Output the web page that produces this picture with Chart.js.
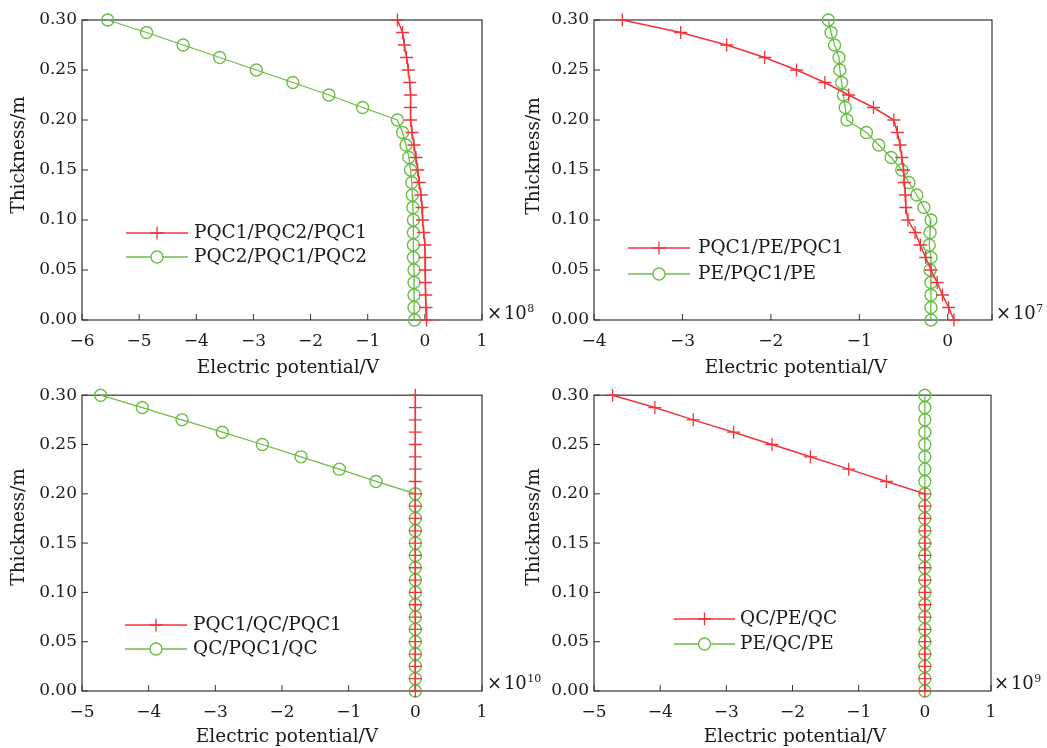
<!DOCTYPE html>
<html>
<head>
<meta charset="utf-8">
<script src="https://cdn.jsdelivr.net/npm/chart.js@4/dist/chart.umd.min.js"></script>
<style>
  body { margin: 0; background: #fff; width: 1047px; height: 748px; position: relative; overflow: hidden; }
  canvas { position: absolute; }
</style>
</head>
<body>
<canvas id="c1" width="545" height="380" style="left:0;top:0"></canvas>
<canvas id="c2" width="527" height="380" style="left:520px;top:0"></canvas>
<canvas id="c3" width="545" height="368" style="left:0;top:380px"></canvas>
<canvas id="c4" width="527" height="368" style="left:520px;top:380px"></canvas>
<script>
// thickness (m), shared by all four panels
const thickness = [0.3, 0.2875, 0.275, 0.2625, 0.25, 0.2375, 0.225, 0.2125, 0.2, 0.1875, 0.175, 0.1625, 0.15,
  0.1375, 0.125, 0.1125, 0.1, 0.0875, 0.075, 0.0625, 0.05, 0.0375, 0.025, 0.0125, 0];

// panel (a), x 1e8 V
const pqc1Pqc2Pqc1 = [-0.48, -0.39, -0.36, -0.32, -0.29, -0.265, -0.25, -0.25, -0.25, -0.225, -0.19, -0.155, -0.125,
  -0.10, -0.07, -0.05, -0.04, -0.02, 0.0, 0.005, 0.005, 0.01, 0.015, 0.02, 0.03];
const pqc2Pqc1Pqc2 = [-5.55, -4.87, -4.23, -3.59, -2.95, -2.31, -1.68, -1.09, -0.48, -0.39, -0.33, -0.28, -0.25,
  -0.23, -0.22, -0.21, -0.20, -0.20, -0.20, -0.20, -0.19, -0.19, -0.19, -0.19, -0.18];

// panel (b), x 1e7 V
const pqc1PePqc1 = [-3.68, -3.02, -2.50, -2.07, -1.71, -1.39, -1.12, -0.84, -0.61, -0.57, -0.54, -0.52, -0.50,
  -0.49, -0.48, -0.475, -0.45, -0.37, -0.31, -0.25, -0.19, -0.12, -0.06, 0.01, 0.07];
const pePqc1Pe = [-1.35, -1.32, -1.28, -1.23, -1.22, -1.20, -1.18, -1.16, -1.14, -0.92, -0.78, -0.64, -0.52,
  -0.44, -0.35, -0.27, -0.19, -0.20, -0.21, -0.19, -0.20, -0.19, -0.19, -0.19, -0.19];

// panel (c), x 1e10 V
const pqc1QcPqc1 = [0, 0, 0, 0, 0, 0, 0, 0, 0, 0, 0, 0, 0, 0, 0, 0, 0, 0, 0, 0, 0, 0, 0, 0, 0];
const qcPqc1Qc = [-4.72, -4.095, -3.50, -2.895, -2.295, -1.715, -1.14, -0.59, 0, 0, 0, 0, 0, 0, 0, 0, 0, 0, 0, 0,
  0, 0, 0, 0, 0];

// panel (d), x 1e9 V
const qcPeQc = [-4.72, -4.08, -3.50, -2.89, -2.31, -1.73, -1.15, -0.58, 0, 0, 0, 0, 0, 0, 0, 0, 0, 0, 0, 0,
  0, 0, 0, 0, 0];
const peQcPe = [0, 0, 0, 0, 0, 0, 0, 0, 0, 0, 0, 0, 0, 0, 0, 0, 0, 0, 0, 0, 0, 0, 0, 0, 0];

const xMin = [-6, -4, -5, -5];
const xMax = [1, 0.5, 1, 1];
const exponents = ['8', '7', '10', '9'];
const seriesNames = [
  ['PQC1/PQC2/PQC1', 'PQC2/PQC1/PQC2'],
  ['PQC1/PE/PQC1', 'PE/PQC1/PE'],
  ['PQC1/QC/PQC1', 'QC/PQC1/QC'],
  ['QC/PE/QC', 'PE/QC/PE'],
];
const seriesValues = [
  [pqc1Pqc2Pqc1, pqc2Pqc1Pqc2],
  [pqc1PePqc1, pePqc1Pe],
  [pqc1QcPqc1, qcPqc1Qc],
  [qcPeQc, peQcPe],
];

const RED = '#f0343a';
const GREEN = '#6cbd48';
const FONT = '"DejaVu Serif", serif';

// layout per panel, canvas coordinates
const layouts = [
  { area: [82, 20, 482, 320], yTitle: [19, 155], xTitle: [288, 368], legend: [126, 188, 233, 257, 194], expo: [487, 319] },
  { area: [74, 20, 472, 320], yTitle: [14, 156], xTitle: [276, 368], legend: [108, 170, 248, 274, 178], expo: [476, 319] },
  { area: [82, 10, 482, 311], yTitle: [19, 147], xTitle: [287, 357], legend: [125, 187, 245, 269, 193], expo: [487, 309] },
  { area: [74, 10, 471, 311], yTitle: [14, 147], xTitle: [275, 357], legend: [154, 215, 239, 264, 220], expo: [474, 309] },
];

const decor = {
  id: 'decor',
  beforeDatasetsDraw(chart, args, o) {
    const { ctx, chartArea: a, scales: { x, y } } = chart;
    ctx.save();
    ctx.strokeStyle = '#333';
    ctx.lineWidth = 1.2;
    ctx.strokeRect(a.left, a.top, a.right - a.left, a.bottom - a.top);
    ctx.lineWidth = 1;
    ctx.beginPath();
    x.ticks.forEach(t => {
      const px = x.getPixelForValue(t.value);
      ctx.moveTo(px, a.bottom);
      ctx.lineTo(px, a.bottom - 6);
    });
    y.ticks.forEach(t => {
      const py = y.getPixelForValue(t.value);
      ctx.moveTo(a.left, py);
      ctx.lineTo(a.left + 6, py);
    });
    ctx.stroke();
    ctx.restore();
  },
  afterDraw(chart, args, o) {
    const { ctx } = chart;
    const L = o.layout;
    ctx.save();
    ctx.fillStyle = '#1a1a1a';
    ctx.font = '18.5px ' + FONT;
    ctx.textBaseline = 'middle';
    ctx.textAlign = 'center';
    ctx.fillText('Electric potential/V', L.xTitle[0], L.xTitle[1]);
    ctx.save();
    ctx.translate(L.yTitle[0], L.yTitle[1]);
    ctx.rotate(-Math.PI / 2);
    ctx.fillText('Thickness/m', 0, 0);
    ctx.restore();

    // legend
    const [x1, x2, y1, y2, tx] = L.legend;
    chart.data.datasets.forEach((ds, i) => {
      const yy = i === 0 ? y1 : y2;
      ctx.strokeStyle = ds.borderColor;
      ctx.lineWidth = ds.borderWidth;
      ctx.beginPath();
      ctx.moveTo(x1, yy);
      ctx.lineTo(x2, yy);
      ctx.stroke();
      ctx.fillStyle = '#fff';
      ctx.strokeStyle = ds.pointBorderColor;
      ctx.lineWidth = ds.pointBorderWidth;
      Chart.helpers.drawPoint(ctx, { pointStyle: ds.pointStyle, radius: ds.pointRadius, borderWidth: ds.pointBorderWidth, rotation: 0 }, (x1 + x2) / 2, yy);
      ctx.fillStyle = '#1a1a1a';
      ctx.textAlign = 'left';
      ctx.fillText(ds.label, tx, yy);
    });

    // exponent
    ctx.textBaseline = 'alphabetic';
    ctx.textAlign = 'left';
    ctx.font = '18px ' + FONT;
    const base = '\u00d7\u200a10';
    ctx.fillText(base, L.expo[0], L.expo[1]);
    const w = ctx.measureText(base).width;
    ctx.font = '11px ' + FONT;
    ctx.fillText(o.exponent, L.expo[0] + w + 0.5, L.expo[1] - 7);
    ctx.restore();
  }
};

function makePanel(idx) {
  const L = layouts[idx];
  const canvas = document.getElementById('c' + (idx + 1));
  const [red, green] = seriesValues[idx];
  const toPoints = vals => vals.map((v, i) => ({ x: v, y: thickness[i] }));
  const W = canvas.width, H = canvas.height;

  new Chart(canvas, {
    type: 'scatter',
    data: {
      datasets: [
        {
          label: seriesNames[idx][0],
          data: toPoints(red),
          showLine: true,
          borderColor: RED,
          borderWidth: 1.5,
          pointStyle: 'cross',
          pointRadius: 6.5,
          pointBorderColor: RED,
          pointBorderWidth: 1.3,
          pointBackgroundColor: RED,
          clip: false,
        },
        {
          label: seriesNames[idx][1],
          data: toPoints(green),
          showLine: true,
          borderColor: GREEN,
          borderWidth: 1.3,
          pointStyle: 'circle',
          pointRadius: 6,
          pointBorderColor: GREEN,
          pointBorderWidth: 1.4,
          pointBackgroundColor: 'rgba(0,0,0,0)',
          clip: false,
        },
      ],
    },
    options: {
      responsive: false,
      animation: false,
      events: [],
      layout: { padding: { left: 0, top: L.area[1], right: W - L.area[2], bottom: 0 } },
      plugins: {
        legend: { display: false },
        tooltip: { enabled: false },
        decor: { layout: L, exponent: exponents[idx] },
      },
      scales: {
        x: {
          type: 'linear',
          min: xMin[idx],
          max: xMax[idx],
          grid: { display: false, drawTicks: false },
          border: { display: false },
          ticks: {
            stepSize: 1,
            padding: 11,
            color: '#1a1a1a',
            font: { family: FONT, size: 17 },
            callback: v => (Number.isInteger(v) ? String(v).replace('-', '\u2212') : ''),
          },
          afterFit: s => { s.height = H - L.area[3]; },
        },
        y: {
          type: 'linear',
          min: 0,
          max: 0.3,
          grid: { display: false, drawTicks: false },
          border: { display: false },
          ticks: {
            stepSize: 0.05,
            padding: 5,
            color: '#1a1a1a',
            font: { family: FONT, size: 17 },
            callback: v => v.toFixed(2),
          },
          afterFit: s => { s.width = L.area[0]; },
        },
      },
    },
    plugins: [decor],
  });
}

[0, 1, 2, 3].forEach(makePanel);
</script>
</body>
</html>
